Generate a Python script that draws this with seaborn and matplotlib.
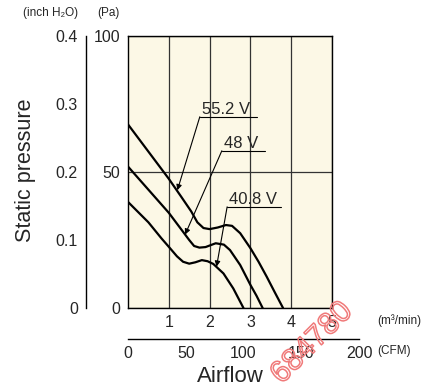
import matplotlib
matplotlib.use('Agg')
import matplotlib.pyplot as plt
import matplotlib.patheffects as pe
import pandas as pd
import seaborn as sns

# curves: airflow in m3/min, static pressure in Pa
airflow_552 = [0, 0.5, 1.0, 1.3, 1.55, 1.7, 1.85, 2.0, 2.2, 2.4, 2.55, 2.75, 3.0, 3.2, 3.4, 3.6, 3.8]
pressure_552 = [67.5, 57.5, 47.5, 41, 35.5, 31.5, 29.4, 29, 29.6, 30.5, 30.2, 27.5, 22, 17, 11.5, 5.7, 0]

airflow_48 = [0, 0.5, 1.0, 1.3, 1.5, 1.62, 1.75, 1.9, 2.15, 2.35, 2.5, 2.75, 3.0, 3.15, 3.3]
pressure_48 = [52, 43.5, 35, 29, 25, 22.8, 22.2, 22.4, 23.8, 23.3, 21.3, 15.8, 8.5, 4.5, 0]

airflow_408 = [0, 0.5, 0.82, 1.0, 1.2, 1.35, 1.5, 1.65, 1.81, 1.95, 2.09, 2.34, 2.58, 2.83]
pressure_408 = [39, 31.5, 25.6, 22.5, 19, 17, 16.3, 16.8, 17.6, 17.2, 16.2, 12.7, 7.2, 0]

voltages = ['55.2 V', '48 V', '40.8 V']

pa_ticks = [0, 50, 100]
inch_ticks = [0, 0.1, 0.2, 0.3, 0.4]
inch_labels = ['0', '0.1', '0.2', '0.3', '0.4']
m3_ticks = [1, 2, 3, 4, 5]
cfm_ticks = [0, 50, 100, 150, 200]

df = pd.concat([
    pd.DataFrame({'airflow': airflow_552, 'pressure': pressure_552, 'voltage': voltages[0]}),
    pd.DataFrame({'airflow': airflow_48, 'pressure': pressure_48, 'voltage': voltages[1]}),
    pd.DataFrame({'airflow': airflow_408, 'pressure': pressure_408, 'voltage': voltages[2]}),
])

sns.set_style('white')
plt.rcParams['font.family'] = ['Liberation Sans', 'DejaVu Sans']

W, H = 444, 392
fig = plt.figure(figsize=(W / 100, H / 100), dpi=100)


def fx(px):
    return px / W


def fy(py):
    return 1 - py / H


# main plot area
ax = fig.add_axes([fx(128), fy(308), (332 - 128) / W, (308 - 36) / H])
ax.set_facecolor('#fcf8e6')
sns.lineplot(data=df, x='airflow', y='pressure', hue='voltage', palette=['black'] * 3,
             estimator=None, sort=False, lw=1.6, legend=False, ax=ax)
ax.set_xlim(0, 5)
ax.set_ylim(0, 100)
ax.set_xticks(m3_ticks)
ax.set_xticklabels([str(t) for t in m3_ticks], fontsize=11.5)
ax.set_yticks(pa_ticks)
ax.set_yticklabels([str(t) for t in pa_ticks], fontsize=11.5)
ax.tick_params(axis='x', length=0, pad=5)
ax.tick_params(axis='y', length=0, pad=5.5)
ax.grid(True, color='#333333', lw=0.9)
ax.set_xlabel('')
ax.set_ylabel('')
for sp in ax.spines.values():
    sp.set_color('black')
    sp.set_linewidth(1)

# annotations: label on an underline, arrow to the curve
notes = [
    ('55.2 V', (1.76, 3.15, 70.3), (1.21, 43.3)),
    ('48 V', (2.30, 3.36, 57.8), (1.40, 27.0)),
    ('40.8 V', (2.43, 3.74, 37.2), (2.17, 15.2)),
]
for label, (x0, x1, yl), tip in notes:
    ax.plot([x0, x1], [yl, yl], color='black', lw=0.8)
    ax.text(x0 + 0.05, yl + 1.2, label, fontsize=12, ha='left', va='baseline')
    ax.annotate('', xy=tip, xytext=(x0, yl),
                arrowprops=dict(arrowstyle='-|>', lw=0.8, color='black',
                                shrinkA=0, shrinkB=0, mutation_scale=8))

# inch H2O axis
ax_in = fig.add_axes([fx(86), fy(308), 0.0001, (308 - 36) / H])
ax_in.set_ylim(0, 0.4)
ax_in.set_xticks([])
ax_in.set_yticks(inch_ticks)
ax_in.set_yticklabels(inch_labels, fontsize=11.5)
ax_in.tick_params(axis='y', direction='in', length=3, width=0.8, pad=5.8)
for side in ['top', 'right', 'bottom']:
    ax_in.spines[side].set_visible(False)
ax_in.spines['left'].set_linewidth(1)
ax_in.spines['left'].set_color('black')
ax_in.patch.set_alpha(0)

# CFM axis
ax_cfm = fig.add_axes([fx(128), fy(339), (359 - 128) / W, 0.0001])
ax_cfm.set_xlim(0, 200)
ax_cfm.set_yticks([])
ax_cfm.set_xticks(cfm_ticks)
ax_cfm.set_xticklabels([str(t) for t in cfm_ticks], fontsize=11.5)
ax_cfm.tick_params(axis='x', direction='in', length=4, width=0.8, pad=5)
for side in ['top', 'right', 'left']:
    ax_cfm.spines[side].set_visible(False)
ax_cfm.spines['bottom'].set_linewidth(1)
ax_cfm.spines['bottom'].set_color('black')
ax_cfm.patch.set_alpha(0)

# unit labels and titles
fig.text(fx(23), fy(13), '(inch H₂O)', fontsize=8.5, ha='left', va='center')
fig.text(fx(97), fy(13), '(Pa)', fontsize=8.5, ha='left', va='center')
fig.text(fx(377), fy(321), '(m³/min)', fontsize=8.5, ha='left', va='center')
fig.text(fx(377), fy(351), '(CFM)', fontsize=8.5, ha='left', va='center')
fig.text(fx(25), fy(170), 'Static pressure', fontsize=15.5, rotation=90, ha='center', va='center')
fig.text(fx(230), fy(377), 'Airflow', fontsize=16, ha='center', va='center')

# watermark
fig.text(fx(312), fy(343), '684780', fontsize=22, rotation=45, ha='center', va='center',
         color=(1, 1, 1, 0), path_effects=[pe.withStroke(linewidth=1.1, foreground='#f07a7a')])

fig.savefig('out.png', dpi=100)
